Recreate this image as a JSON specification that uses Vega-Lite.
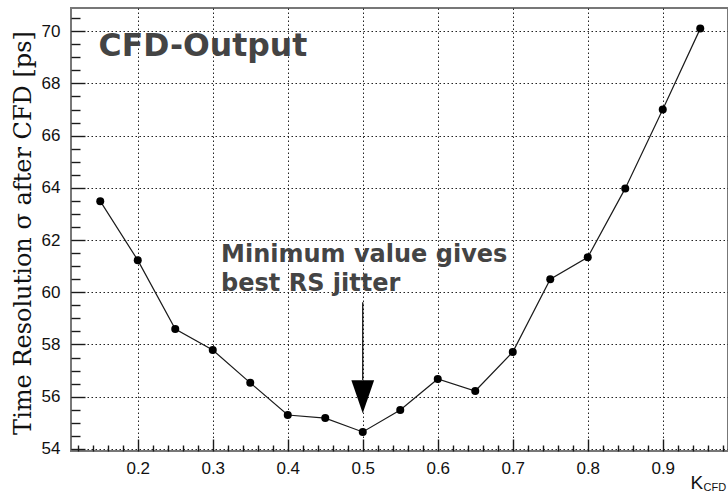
{
  "$schema": "https://vega.github.io/schema/vega-lite/v6.json",
  "width": 657,
  "height": 443,
  "autosize": {"type": "none"},
  "padding": {"left": 71, "top": 8, "right": 0, "bottom": 45},
  "background": "white",
  "config": {
    "view": {"stroke": "#777777", "strokeWidth": 2},
    "axis": {
      "domain": false,
      "tickColor": "#1a1a1a",
      "tickWidth": 1.4,
      "labelFont": "Liberation Sans",
      "labelFontSize": 17,
      "labelColor": "#111111",
      "titleColor": "#111111",
      "titleFontWeight": "normal",
      "gridColor": "#222222",
      "gridDash": [1.5, 2.5],
      "gridWidth": 1,
      "gridOpacity": 1
    }
  },
  "datasets": {
    "scan": [
      {"k": 0.15, "sigma": 63.49},
      {"k": 0.20, "sigma": 61.23},
      {"k": 0.25, "sigma": 58.59},
      {"k": 0.30, "sigma": 57.79},
      {"k": 0.35, "sigma": 56.53},
      {"k": 0.40, "sigma": 55.30},
      {"k": 0.45, "sigma": 55.18},
      {"k": 0.50, "sigma": 54.65},
      {"k": 0.55, "sigma": 55.49},
      {"k": 0.60, "sigma": 56.68},
      {"k": 0.65, "sigma": 56.22},
      {"k": 0.70, "sigma": 57.71},
      {"k": 0.75, "sigma": 60.50},
      {"k": 0.80, "sigma": 61.34},
      {"k": 0.85, "sigma": 63.98},
      {"k": 0.90, "sigma": 67.00},
      {"k": 0.95, "sigma": 70.10}
    ],
    "arrow": [
      {"k": 0.5, "top": 59.62, "bottom": 56.64, "head": 56.0}
    ],
    "headline": [
      {"k": 0.1477, "sigma": 69.07, "label": "CFD-Output"}
    ],
    "note": [
      {"k": 0.3111, "sigma": 61.16, "label": "Minimum value gives"},
      {"k": 0.3111, "sigma": 60.04, "label": "best RS jitter"}
    ]
  },
  "layer": [
    {
      "data": {"name": "scan"},
      "mark": {"type": "line", "color": "#1a1a1a", "strokeWidth": 1.2},
      "encoding": {
        "x": {
          "field": "k", "type": "quantitative",
          "scale": {"domain": [0.111, 0.987], "nice": false, "zero": false},
          "axis": {
            "orient": "bottom",
            "values": [0.2, 0.3, 0.4, 0.5, 0.6, 0.7, 0.8, 0.9],
            "format": ".1f",
            "tickSize": -12,
            "labelPadding": 21,
            "grid": true,
            "title": "K",
            "titleFont": "Liberation Sans",
            "titleFontSize": 19,
            "titleAlign": "left",
            "titleBaseline": "alphabetic",
            "titleX": 619,
            "titleY": 37
          }
        },
        "y": {
          "field": "sigma", "type": "quantitative",
          "scale": {"domain": [53.92, 70.89], "nice": false, "zero": false},
          "axis": {
            "orient": "left",
            "values": [54, 56, 58, 60, 62, 64, 66, 68, 70],
            "tickSize": -14,
            "labelPadding": 25,
            "grid": true,
            "title": "Time Resolution σ after CFD [ps]",
            "titleFont": "DejaVu Serif",
            "titleFontSize": 24,
            "titleAngle": -90,
            "titleAlign": "center",
            "titleBaseline": "alphabetic",
            "titleX": -41,
            "titleY": 224.5
          }
        }
      }
    },
    {
      "data": {"name": "scan"},
      "mark": {"type": "point", "shape": "circle", "filled": true, "color": "#000000", "opacity": 1, "size": 64},
      "encoding": {
        "x": {"field": "k", "type": "quantitative", "scale": {"domain": [0.111, 0.987], "nice": false, "zero": false}, "axis": null},
        "y": {"field": "sigma", "type": "quantitative", "scale": {"domain": [53.92, 70.89], "nice": false, "zero": false}, "axis": null}
      }
    },
    {
      "data": {"name": "arrow"},
      "mark": {"type": "rule", "color": "#000000", "strokeWidth": 1.2},
      "encoding": {
        "x": {
          "field": "k", "type": "quantitative",
          "scale": {"domain": [0.111, 0.987], "nice": false, "zero": false},
          "axis": {
            "orient": "bottom",
            "values": [0.12, 0.14, 0.16, 0.18, 0.22, 0.24, 0.26, 0.28, 0.32, 0.34, 0.36, 0.38, 0.42, 0.44, 0.46, 0.48, 0.52, 0.54, 0.56, 0.58, 0.62, 0.64, 0.66, 0.68, 0.72, 0.74, 0.76, 0.78, 0.82, 0.84, 0.86, 0.88, 0.92, 0.94, 0.96, 0.98],
            "tickSize": -6,
            "labels": false,
            "grid": false,
            "title": "CFD",
            "titleFont": "Liberation Sans",
            "titleFontSize": 11,
            "titleAlign": "left",
            "titleBaseline": "alphabetic",
            "titleX": 632,
            "titleY": 39
          }
        },
        "y": {
          "field": "top", "type": "quantitative",
          "scale": {"domain": [53.92, 70.89], "nice": false, "zero": false},
          "axis": {
            "orient": "left",
            "values": [54.5, 55, 55.5, 56.5, 57, 57.5, 58.5, 59, 59.5, 60.5, 61, 61.5, 62.5, 63, 63.5, 64.5, 65, 65.5, 66.5, 67, 67.5, 68.5, 69, 69.5, 70.5],
            "tickSize": -9,
            "labels": false,
            "grid": false,
            "title": null
          }
        },
        "y2": {"field": "bottom"}
      }
    },
    {
      "data": {"name": "arrow"},
      "mark": {"type": "point", "shape": "M-0.69,-1L0.69,-1L0,1Z", "filled": true, "color": "#000000", "opacity": 1, "size": 1089, "strokeWidth": 0},
      "encoding": {
        "x": {"field": "k", "type": "quantitative", "scale": {"domain": [0.111, 0.987], "nice": false, "zero": false}, "axis": null},
        "y": {"field": "head", "type": "quantitative", "scale": {"domain": [53.92, 70.89], "nice": false, "zero": false}, "axis": null}
      }
    },
    {
      "data": {"name": "headline"},
      "mark": {"type": "text", "font": "DejaVu Sans", "fontWeight": "bold", "fontSize": 31.5, "color": "#444444", "align": "left", "baseline": "alphabetic"},
      "encoding": {
        "x": {"field": "k", "type": "quantitative", "scale": {"domain": [0.111, 0.987], "nice": false, "zero": false}, "axis": null},
        "y": {"field": "sigma", "type": "quantitative", "scale": {"domain": [53.92, 70.89], "nice": false, "zero": false}, "axis": null},
        "text": {"field": "label"}
      }
    },
    {
      "data": {"name": "note"},
      "mark": {"type": "text", "font": "DejaVu Sans", "fontWeight": "bold", "fontSize": 24, "color": "#444444", "align": "left", "baseline": "alphabetic"},
      "encoding": {
        "x": {"field": "k", "type": "quantitative", "scale": {"domain": [0.111, 0.987], "nice": false, "zero": false}, "axis": null},
        "y": {"field": "sigma", "type": "quantitative", "scale": {"domain": [53.92, 70.89], "nice": false, "zero": false}, "axis": null},
        "text": {"field": "label"}
      }
    }
  ],
  "resolve": {"axis": {"x": "independent", "y": "independent"}}
}
